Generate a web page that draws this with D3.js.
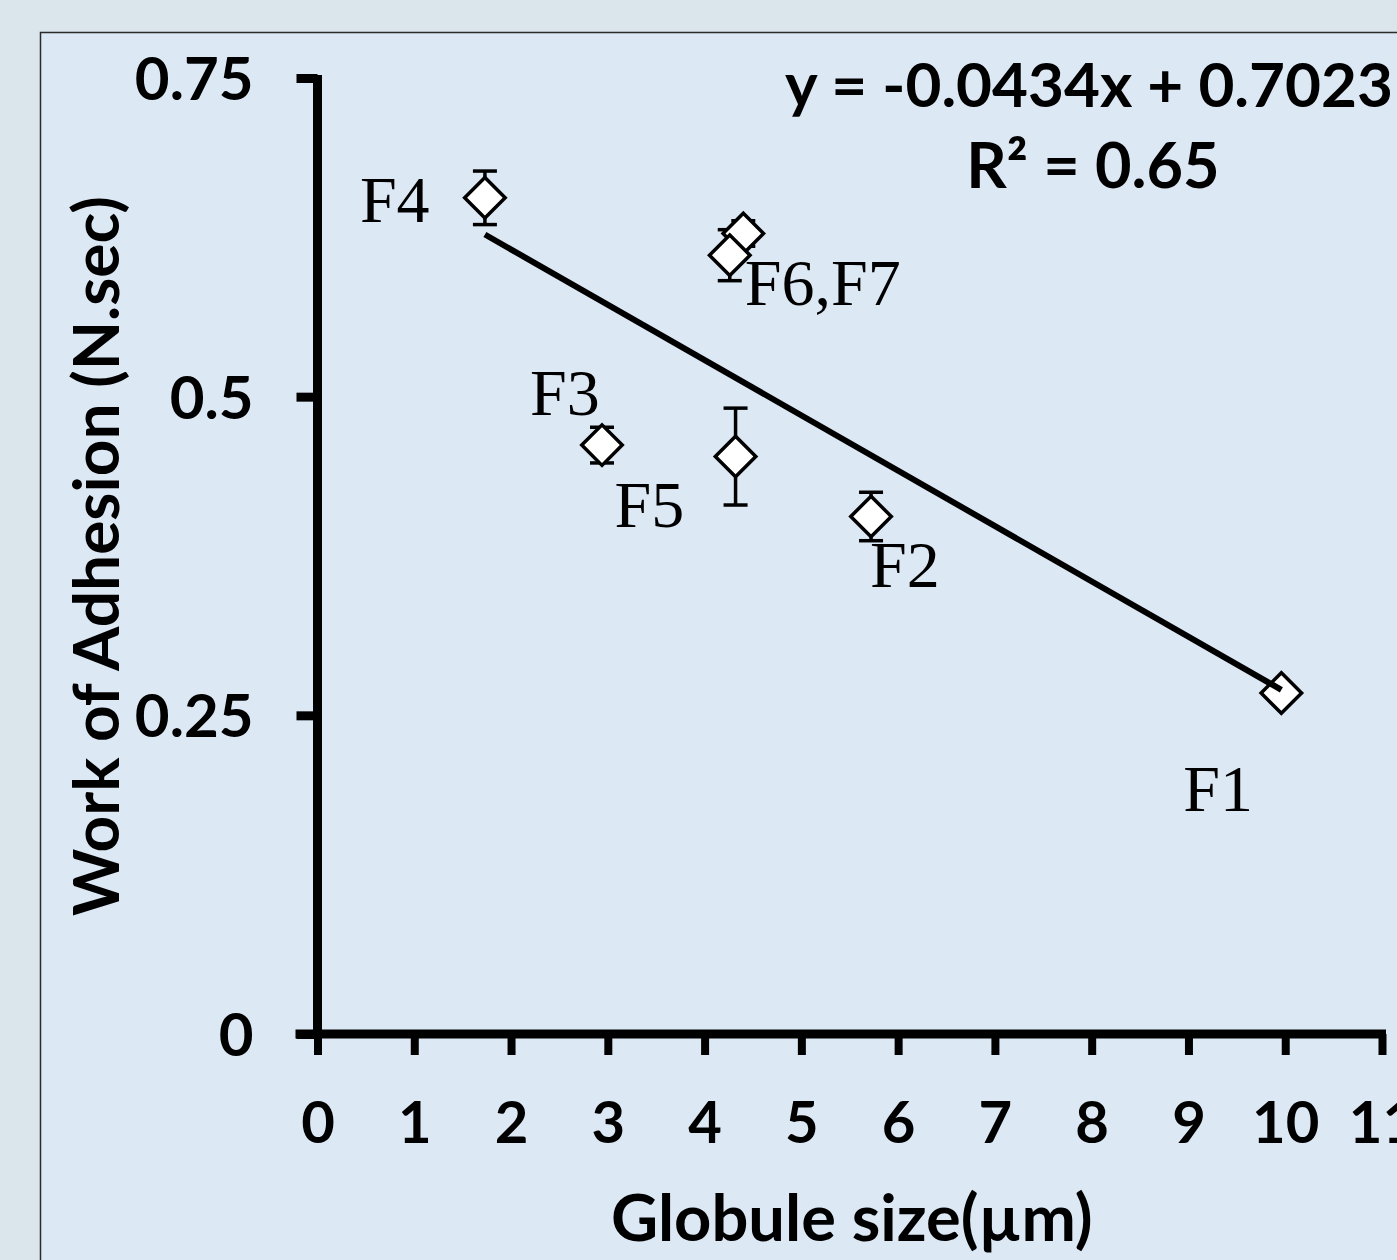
<!DOCTYPE html>
<html>
<head>
<meta charset="utf-8">
<script src="https://cdn.jsdelivr.net/npm/d3@7"></script>
<style>
  html, body { margin: 0; padding: 0; background: #dae5ec; }
  svg { display: block; }
</style>
</head>
<body>
<svg id="chart" width="1397" height="1260"></svg>
<script>
// ---- data ----
const formulations = ["F7", "F6", "F4", "F3", "F5", "F2", "F1"];
const globuleSize  = [4.40, 4.26, 1.73, 2.94, 4.32, 5.72, 9.96];
const workAdhesion = [0.628, 0.611, 0.656, 0.462, 0.453, 0.406, 0.2675];
const errorSD      = [0.010, 0.020, 0.021, 0.014, 0.038, 0.019, 0.005];
const xTicks = [0, 1, 2, 3, 4, 5, 6, 7, 8, 9, 10, 11];
const yTicks = [0, 0.25, 0.5, 0.75];
const yTickLabels = ["0", "0.25", "0.5", "0.75"];
const trendSlope = -0.0434;
const trendIntercept = 0.7023;
const equationText = "y = -0.0434x + 0.7023";
const r2Text = "R² = 0.65";
const pointLabels = ["F4", "F6,F7", "F3", "F5", "F2", "F1"];
const xTitle = "Globule size(µm)";
const yTitle = "Work of Adhesion (N.sec)";

// ---- layout (not data) ----
const labelAnchor = { // label -> [formulation it sits by, dx, dy]
  "F4": ["F4", -125, 24],
  "F6,F7": ["F6", 15, 50],
  "F3": ["F3", -72, -30],
  "F5": ["F5", -121, 70],
  "F2": ["F2", -1, 71],
  "F1": ["F1", -98, 118]
};

const svg = d3.select("#chart");
const sansBold = "Lato, 'Open Sans', sans-serif";
const serif = "'Liberation Serif', 'Times New Roman', serif";

// panel
svg.append("rect")
  .attr("x", 40.5).attr("y", 32.5)
  .attr("width", 1400).attr("height", 1300)
  .attr("fill", "#dde8f5")
  .attr("stroke", "#2b2b2b").attr("stroke-width", 1.5);

const x = d3.scaleLinear().domain([0, 11]).range([317.5, 1382]);
const y = d3.scaleLinear().domain([0, 0.75]).range([1034, 78]);

// x axis
const gx = svg.append("g").attr("transform", `translate(0,${y(0)})`)
  .call(d3.axisBottom(x).tickValues(xTicks).tickSize(21).tickSizeOuter(0).tickFormat(d3.format("d")));
gx.select(".domain").attr("stroke", "#000").attr("stroke-width", 9)
  .attr("d", `M${x(0) - 22},0H${x(11) + 4}`);
gx.selectAll(".tick line").attr("stroke", "#000").attr("stroke-width", 8);
gx.selectAll(".tick text")
  .attr("y", 109).attr("dy", 0)
  .attr("font-family", sansBold).attr("font-weight", 700)
  .attr("font-size", 58).attr("fill", "#000");

// y axis
const gy = svg.append("g").attr("transform", `translate(${x(0)},0)`)
  .call(d3.axisLeft(y).tickValues(yTicks).tickSize(21).tickSizeOuter(0)
    .tickFormat((d, i) => yTickLabels[i]));
gy.select(".domain").attr("stroke", "#000").attr("stroke-width", 9)
  .attr("d", `M0,${y(0.75) - 3}V${y(0)}`);
gy.selectAll(".tick line").attr("stroke", "#000").attr("stroke-width", 9);
gy.selectAll(".tick text")
  .attr("x", -64).attr("dy", "0.36em")
  .attr("font-family", sansBold).attr("font-weight", 700)
  .attr("font-size", 60).attr("fill", "#000");
gy.attr("font-size", null); gx.attr("font-size", null);

// axis titles
svg.append("text")
  .attr("x", (x(0) + x(11)) / 2 + 2).attr("y", 1241)
  .attr("text-anchor", "middle")
  .attr("font-family", sansBold).attr("font-weight", 700).attr("font-size", 65)
  .text(xTitle);
svg.append("text")
  .attr("transform", `translate(119,${(y(0) + y(0.75)) / 2}) rotate(-90)`)
  .attr("text-anchor", "middle")
  .attr("font-family", sansBold).attr("font-weight", 700).attr("font-size", 64)
  .text(yTitle);

// data rows
const rows = formulations.map((f, i) => ({
  f, x: globuleSize[i], y: workAdhesion[i], e: errorSD[i]
}));

// error bars
const eb = svg.append("g").attr("stroke", "#000").attr("stroke-width", 3.5);
rows.forEach(d => {
  eb.append("line").attr("x1", x(d.x)).attr("x2", x(d.x))
    .attr("y1", y(d.y - d.e)).attr("y2", y(d.y + d.e));
  [d.y - d.e, d.y + d.e].forEach(v => {
    eb.append("line").attr("x1", x(d.x) - 12).attr("x2", x(d.x) + 12)
      .attr("y1", y(v)).attr("y2", y(v));
  });
});

// markers
const sym = d3.symbol().type(d3.symbolSquare).size(820);
svg.append("g").selectAll("path").data(rows).join("path")
  .attr("d", sym)
  .attr("transform", d => `translate(${x(d.x)},${y(d.y)}) rotate(45)`)
  .attr("fill", "#fff").attr("stroke", "#000").attr("stroke-width", 3.5);

// trendline
const xMin = d3.min(globuleSize), xMax = d3.max(globuleSize);
svg.append("line")
  .attr("x1", x(xMin)).attr("y1", y(trendSlope * xMin + trendIntercept))
  .attr("x2", x(xMax)).attr("y2", y(trendSlope * xMax + trendIntercept))
  .attr("stroke", "#000").attr("stroke-width", 6);

// point labels
const byF = Object.fromEntries(rows.map(d => [d.f, d]));
svg.append("g").selectAll("text").data(pointLabels).join("text")
  .attr("x", l => x(byF[labelAnchor[l][0]].x) + labelAnchor[l][1])
  .attr("y", l => y(byF[labelAnchor[l][0]].y) + labelAnchor[l][2])
  .attr("font-family", serif).attr("font-size", 66).attr("fill", "#000")
  .text(l => l);

// equation
svg.append("text").attr("x", 1089).attr("y", 107).attr("text-anchor", "middle")
  .attr("font-family", sansBold).attr("font-weight", 700).attr("font-size", 62)
  .text(equationText);
svg.append("text").attr("x", 1093).attr("y", 188).attr("text-anchor", "middle")
  .attr("font-family", sansBold).attr("font-weight", 700).attr("font-size", 63)
  .text(r2Text);
</script>
</body>
</html>
